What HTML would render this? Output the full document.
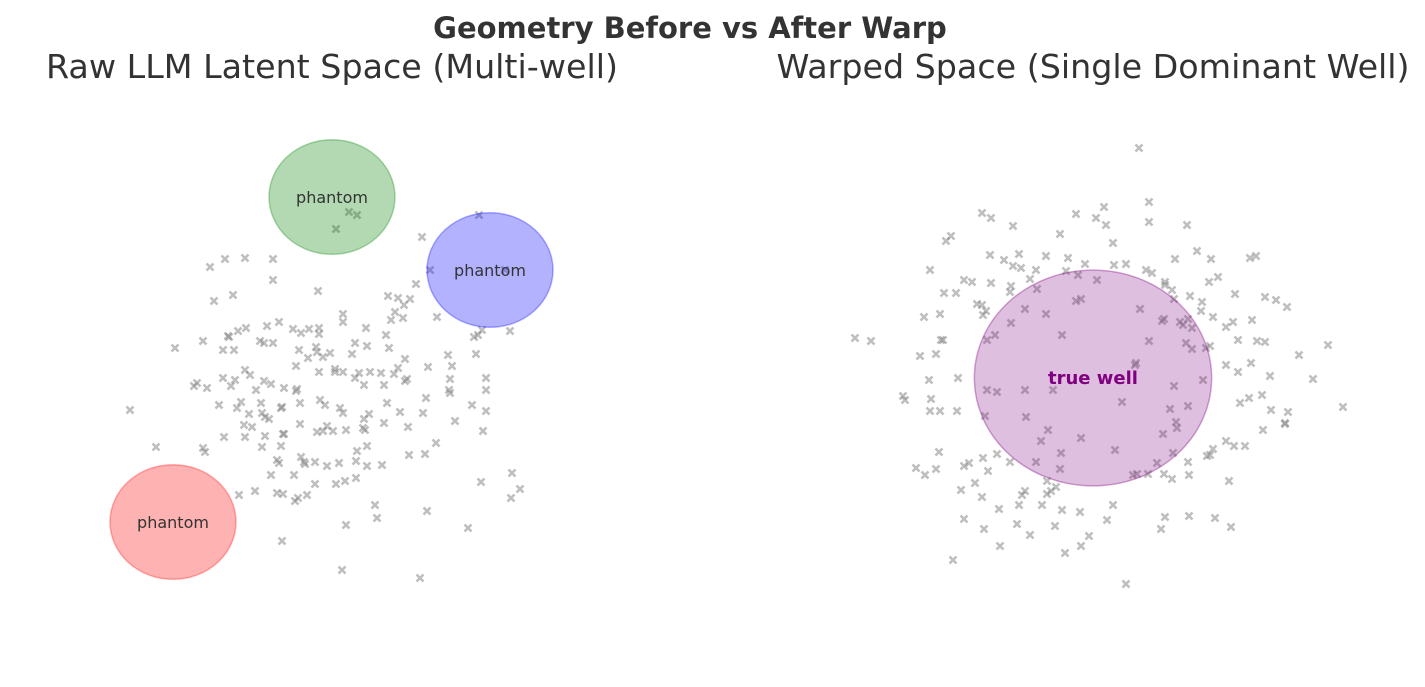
<!DOCTYPE html>
<html><head><meta charset="utf-8"><style>
body{margin:0;background:#fff;width:1425px;height:682px;overflow:hidden}
svg{font-family:"DejaVu Sans","Liberation Sans",sans-serif}
</style></head><body>
<svg id="c" width="1425" height="682">
<text x="690" y="38" text-anchor="middle" font-size="29" font-weight="bold" fill="#333">Geometry Before vs After Warp</text>
<text x="332" y="78" text-anchor="middle" font-size="33.3" fill="#333">Raw LLM Latent Space (Multi-well)</text>
<text x="1093" y="78" text-anchor="middle" font-size="33.3" fill="#333">Warped Space (Single Dominant Well)</text>
<g id="lp"></g>
<g id="rp"></g>
<g id="wells"></g>
</svg>
<script>
// left panel raw points in data units
const leftX=[0.19,0.27,0.06,0.92,1.49,-1.2,-1.05,-0.85,-0.57,-0.57,-0.97,-1.16,-0.12,1.0,0.86,1.75,0.58,0.68,0.8,0.74,0.65,0.73,0.61,1.07,0.13,-0.11,0.13,0.36,-0.51,-0.63,-0.37,-0.29,-0.21,-0.84,-0.92,-1.02,-1.01,-0.7,-0.66,-0.57,-1.07,-0.96,-1.27,-1.55,0.56,0.59,0.37,0.22,0.25,0.0,-0.14,-0.13,-0.31,-0.34,-0.22,-0.07,0.05,0.05,-0.11,0.75,0.68,0.64,0.75,0.77,0.51,0.4,0.29,0.13,0.25,0.34,0.54,1.18,1.22,1.2,0.98,1.46,1.52,1.48,1.44,1.8,1.56,1.56,1.19,1.2,1.42,1.56,1.53,1.25,0.96,0.93,1.06,0.78,0.95,0.79,0.7,0.57,0.54,0.39,0.34,0.33,0.35,0.37,0.27,0.26,0.26,0.15,0.06,-0.15,-0.25,-0.03,0.09,0.16,0.03,-0.07,-0.13,-0.03,0.13,0.1,-0.05,-0.1,-0.3,-0.49,-0.34,-0.46,-0.33,-0.59,-0.66,-0.74,-0.8,-0.95,-1.07,-0.85,-0.99,-1.36,-1.33,-1.23,-1.11,-0.93,-0.89,-0.81,-0.68,-0.69,-0.48,-0.65,-0.61,-0.78,-0.3,-0.86,-0.85,-1.27,-1.06,-0.65,-0.47,-0.46,-0.68,-0.53,-0.51,-0.59,-0.36,-0.26,-0.15,-0.29,-0.35,-0.32,-0.47,-0.53,-0.75,-0.91,-0.23,0.16,0.47,0.45,0.52,0.37,-0.49,-0.48,0.12,0.9,0.97,1.38,1.51,1.82,1.9,-2.0,-1.74,-1.25,1.81,-0.11];
const leftY=[1.68,1.65,1.51,1.43,1.65,1.13,1.21,1.22,1.21,1.0,0.85,0.79,0.89,1.1,0.96,1.1,0.84,0.82,0.81,0.75,0.68,0.62,0.6,0.63,0.66,0.52,0.58,0.52,0.58,0.54,0.51,0.47,0.51,0.52,0.49,0.44,0.43,0.39,0.37,0.37,0.3,0.3,0.39,0.32,0.45,0.32,0.34,0.26,0.37,0.27,0.33,0.28,0.3,0.14,0.22,0.23,0.11,0.08,0.08,0.21,0.12,0.06,-0.01,0.01,0.07,0.08,0.07,0.08,0.02,-0.05,-0.05,0.25,0.14,0.01,0.13,0.26,0.5,0.45,0.43,0.49,0.02,-0.1,-0.1,-0.13,-0.25,-0.31,-0.51,-0.41,-0.18,-0.33,-0.63,-0.47,-0.74,-0.75,-0.32,-0.23,-0.43,-0.34,-0.39,-0.48,-0.5,-0.66,-0.71,-0.81,-0.98,-1.01,-1.04,-1.04,-0.84,-0.86,-0.83,-0.5,-0.51,-0.51,-0.52,-0.46,-0.33,-0.28,-0.25,-0.2,-0.23,-0.28,-0.11,-0.08,-0.09,-0.04,-0.01,-0.1,0.05,-0.0,0.02,0.1,-0.06,-0.06,-0.03,-0.08,-0.25,-0.28,-0.22,-0.34,-0.33,-0.23,-0.27,-0.37,-0.39,-0.47,-0.44,-0.45,-0.57,-0.68,-0.57,-0.56,-0.54,-0.54,-0.67,-0.8,-0.83,-0.95,-0.95,-0.82,-0.82,-0.77,-1.21,-1.18,-1.14,-1.13,-1.11,-1.15,-1.15,-1.45,-1.38,-1.25,-0.85,-0.86,-0.66,-1.61,-1.9,-1.98,-1.31,-1.48,-1.02,-0.93,-1.09,-0.3,-0.67,-0.72,-1.18,0.46,0.42];
// right panel warped points
const rightX=[0.46,0.56,0.56,0.94,0.11,-0.17,0.03,0.13,-0.33,0.2,-0.8,-1.11,-1.02,-1.42,-1.47,-1.03,-0.74,-0.89,-0.8,-0.72,-0.47,-0.57,-0.27,-0.25,-0.08,-0.15,0.04,0.21,0.33,0.53,0.59,0.72,0.82,1.04,1.18,1.25,1.16,1.57,1.63,1.42,1.72,1.83,1.94,1.59,1.4,1.33,1.2,1.09,1.08,0.97,0.95,0.9,0.99,0.87,0.81,0.71,0.69,0.47,0.79,0.72,-0.12,-0.17,-0.56,-0.63,-0.82,-0.83,-1.02,-1.21,-1.29,-1.49,-1.37,-1.16,-1.11,-1.07,-1.1,-0.82,-0.68,-0.47,-1.69,-1.53,-1.5,-1.52,-1.73,-1.57,-2.38,-2.22,-1.63,-0.98,-1.06,-0.31,0.56,0.43,0.93,0.99,1.13,1.17,1.45,1.64,1.72,2.06,2.35,2.2,1.77,1.58,1.45,1.33,1.1,0.81,0.95,0.77,0.83,0.84,0.7,0.8,0.64,0.71,0.55,0.44,0.79,0.96,0.95,1.17,1.14,1.2,1.41,1.33,1.52,1.7,1.92,1.92,1.95,1.78,1.56,1.47,1.69,2.5,1.36,0.96,1.22,1.38,0.72,0.68,0.29,0.22,-0.12,0.42,-1.35,-1.64,-1.06,-0.96,-0.68,-0.4,-1.9,-1.88,-1.62,-1.63,-1.53,-1.36,-1.08,-0.67,-0.52,-0.45,-0.32,-0.57,-0.83,-0.96,-1.1,-1.24,-1.29,-1.54,-1.57,-1.77,-1.68,-1.05,-1.18,-1.32,-1.11,-0.94,-0.71,-0.68,-0.46,-0.42,-0.37,-0.33,-0.13,-0.31,-0.51,-0.46,-0.74,-0.76,-0.63,-0.38,-0.12,-0.04,-0.28,0.14,0.2,-0.93,-1.09,-1.29,-1.4,0.33,0.4];
const rightY=[2.32,1.78,1.58,1.55,1.73,1.66,1.62,1.55,1.46,1.37,1.54,1.67,1.62,1.44,1.39,1.25,1.26,1.2,1.14,1.12,1.24,1.1,1.09,1.22,1.16,1.05,1.0,1.15,1.16,1.1,1.07,0.98,1.21,1.29,1.21,1.03,0.98,1.22,1.24,0.86,0.83,0.8,0.73,0.6,0.58,0.53,0.63,0.78,0.69,0.84,0.61,0.55,0.52,0.58,0.81,0.61,0.59,0.71,0.9,0.95,0.81,0.79,0.91,1.01,0.94,0.88,0.97,0.98,1.0,0.87,0.87,0.76,0.75,0.69,0.65,0.57,0.71,0.66,0.63,0.66,0.4,0.4,0.24,0.26,0.42,0.39,1.1,0.45,0.4,0.45,0.39,0.17,0.37,0.31,0.32,0.34,0.4,0.39,0.38,0.25,0.35,0.01,0.04,0.17,0.08,0.15,0.0,-0.06,-0.26,-0.29,-0.42,-0.48,-0.54,-0.73,-0.83,-0.94,-0.94,-0.94,-0.99,-0.95,-0.82,-0.75,-0.76,-0.69,-0.66,-0.61,-0.66,-0.5,-0.43,-0.44,-0.32,-0.3,-0.18,-0.23,-0.15,-0.27,-1.01,-1.36,-1.38,-1.47,-1.37,-1.49,-0.22,-0.7,-0.58,0.15,0.02,0.0,-0.1,-0.12,-0.1,-0.1,-0.16,-0.2,-0.19,-0.31,-0.31,-0.31,-0.36,-0.37,-0.61,-0.5,-0.73,-0.82,-0.82,-0.74,-0.78,-0.83,-0.86,-0.72,-0.89,-0.88,-0.95,-0.91,-1.03,-1.1,-1.17,-1.29,-1.15,-1.11,-1.01,-1.11,-1.07,-0.89,-1.32,-1.3,-1.25,-1.14,-1.25,-1.44,-1.55,-1.46,-1.66,-1.56,-1.73,-1.4,-1.25,-1.66,-1.49,-1.39,-1.8,-2.04,-0.95];
const wellNames=["phantom","phantom","phantom","true well"];
const wellX=[0.02,1.6,-1.57,0.0];
const wellY=[1.83,1.1,-1.42,0.02];
const wellR=[0.6,0.6,0.6,1.13];
const wellPanel=[0,0,0,1];
const wellColor=["rgb(0,128,0)","rgb(0,0,255)","rgb(255,0,0)","rgb(128,0,128)"];
// axis functions
const cx=[330,1093], cy=380, sx=100, sy=100;
function X(v,p){return cx[p]+v*sx;}
function Y(v){return cy-v*sy;}
const NS="http://www.w3.org/2000/svg";
function mark(g,x,y){
  const p=document.createElementNS(NS,"path");
  const s=3.5;
  p.setAttribute("d",`M${x-s},${y-s}L${x+s},${y+s}M${x-s},${y+s}L${x+s},${y-s}`);
  p.setAttribute("stroke","rgba(128,128,128,0.5)");
  p.setAttribute("stroke-width","2.6");
  
  
  g.appendChild(p);
}
const lp=document.getElementById("lp"), rp=document.getElementById("rp");
leftX.forEach((v,i)=>mark(lp,X(v,0),Y(leftY[i])));
rightX.forEach((v,i)=>mark(rp,X(v,1),Y(rightY[i])));
const wg=document.getElementById("wells");
wellX.forEach((v,i)=>{
  const e=document.createElementNS(NS,"ellipse");
  const p=wellPanel[i];
  e.setAttribute("cx",X(v,p));e.setAttribute("cy",Y(wellY[i]));
  e.setAttribute("rx",wellR[i]*105);e.setAttribute("ry",wellR[i]*95.5);
  e.setAttribute("fill",wellColor[i]);
  e.setAttribute("fill-opacity",p?0.25:0.3);
  e.setAttribute("stroke",wellColor[i]);
  e.setAttribute("stroke-opacity",p?0.35:0.3);
  e.setAttribute("stroke-width","1.5");
  
  
  wg.appendChild(e);
  const t=document.createElementNS(NS,"text");
  t.setAttribute("x",X(v,p));t.setAttribute("y",Y(wellY[i])+6);
  t.setAttribute("text-anchor","middle");
  if(p){t.setAttribute("font-size","18");t.setAttribute("font-weight","bold");t.setAttribute("fill","purple");}
  else{t.setAttribute("font-size","16");t.setAttribute("fill","#333");}
  t.textContent=wellNames[i];
  
  
  wg.appendChild(t);
});
</script>
</body></html>
